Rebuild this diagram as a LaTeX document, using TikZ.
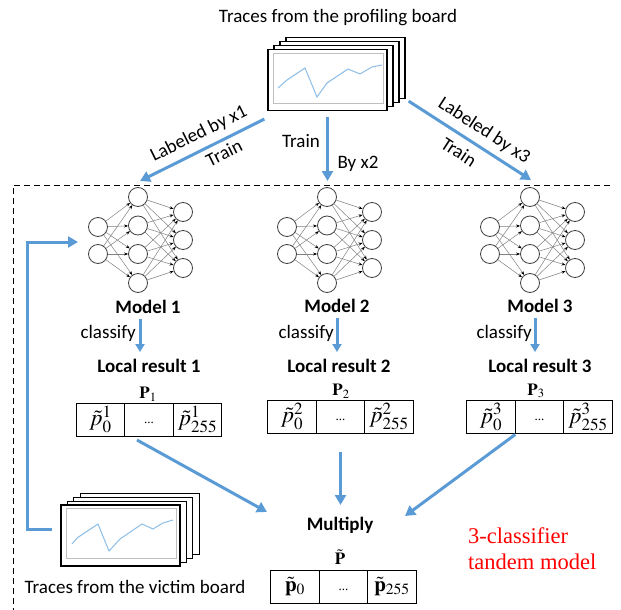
\documentclass[tikz,border=0pt]{standalone}
\usepackage{mathptmx}
\usepackage[no-math]{fontspec}
\setmainfont{Carlito}
\newfontfamily\timesfont{Liberation Serif}
\usetikzlibrary{arrows.meta}
\definecolor{arrowblue}{RGB}{91,155,213}
\definecolor{traceblue}{RGB}{140,190,232}
\begin{document}
\begin{tikzpicture}[x=1pt,y=-1pt,
  lbl/.style={font=\fontsize{19}{21}\selectfont, inner sep=0pt},
  blbl/.style={font=\fontsize{19}{21}\selectfont\bfseries, inner sep=0pt},
  barrow/.style={draw=arrowblue, line width=3pt, -{Triangle[length=10pt,width=11pt]}},
  sarrow/.style={draw=arrowblue, line width=3pt, -{Triangle[length=8pt,width=9pt]}},
  neuron/.style={circle, draw=black!75, line width=0.8pt, minimum size=19pt, inner sep=0pt},
  nnedge/.style={draw=gray, line width=0.5pt, -{Stealth[length=4pt,width=3pt,color=black]}},
  cell/.style={draw, line width=1pt, minimum width=48.5pt, minimum height=33pt, inner sep=0pt, outer sep=0pt, font=\fontsize{23}{25}\selectfont},
  tracepage/.style={draw, line width=1.2pt, fill=white, minimum width=119pt, minimum height=61pt, inner sep=0pt},
  plotbox/.style={draw=black!25, line width=0.4pt},
  plotline/.style={draw=traceblue, line width=1pt},
  mathlbl/.style={inner sep=0pt, font=\fontsize{17}{19}\selectfont},
  dots/.style={font=\timesfont\fontsize{13}{15}\selectfont},
]
\useasboundingbox (0,0) rectangle (621,610);

% ---------- top traces ----------
\node[lbl] (toptitle) at (338,18) {Traces from the profiling board};
\foreach \k in {3,2,1} \node[tracepage] (tp\k) at (327.5+6*\k,80-4*\k) {};
\node[tracepage] (tp0) at (327.5,80) {};
\begin{scope}[shift={(tp0.center)}]
  \draw[plotbox] (-54.5,-27) rectangle (55.5,23);
  \draw[plotline] (-49.5,8) -- (-40.5,0) -- (-22.5,-12) -- (-10.5,17) -- (-0.5,3) -- (20.5,-11) -- (32.5,-6) -- (44.5,-13) -- (54.5,-15);
\end{scope}

% ---------- dashed frame ----------
\draw[line width=1pt, dash pattern=on 6pt off 4pt] (610,185) -- (13,185) -- (13,610);

% ---------- training arrows ----------
\coordinate (sL) at ([shift={(-3,8)}]tp0.south west);
\coordinate (sM) at ([shift={(0,6)}]tp0.south);
\coordinate (sR) at ([shift={(3,2)}]tp3.south east);
\coordinate (tL) at (140,181);
\coordinate (tM) at (327.5,181);
\coordinate (tR) at (531,180);
\draw[barrow] (sL) -- (tL);
\draw[barrow] (sM) -- (tM);
\draw[barrow] (sR) -- (tR);
\node[lbl, rotate=26.4] (labx1) at (199,134) {Labeled by x1};
\node[lbl, rotate=26.4] (trL) at (224,153) {Train};
\node[lbl] (trM) at (301,141) {Train};
\node[lbl] (byx2) at (358,164) {By x2};
\node[lbl, rotate=-33] (labx3) at (484,131) {Labeled by x3};
\node[lbl, rotate=-33] (trR) at (459,152) {Train};

% ---------- networks ----------
\foreach \m/\xh in {1/138,2/327,3/530} {
  \foreach \i/\yy in {1/227,2/254} \node[neuron] (n\m-i\i) at (\xh-40,\yy) {};
  \foreach \j/\yy in {1/197,2/225.5,3/254,4/283} \node[neuron] (n\m-h\j) at (\xh,\yy) {};
  \foreach \k/\yy in {1/212,2/240,3/268} \node[neuron] (n\m-o\k) at (\xh+45,\yy) {};
  \foreach \i in {1,2} \foreach \j in {1,...,4} \draw[nnedge] (n\m-i\i) -- (n\m-h\j);
  \foreach \j in {1,...,4} \foreach \k in {1,2,3} \draw[nnedge] (n\m-h\j) -- (n\m-o\k);
}

% ---------- model labels and classify ----------
\node[blbl] (mod1) at (148,307) {Model 1};
\node[blbl] (mod2) at (337,306) {Model 2};
\node[blbl] (mod3) at (540,306) {Model 3};
\node[blbl] (loc1) at (149,366) {Local result 1};
\node[blbl] (loc2) at (339,366) {Local result 2};
\node[blbl] (loc3) at (540,366) {Local result 3};
\draw[sarrow] ([xshift=-8pt,yshift=-5pt]mod1.south) -- ([xshift=-9pt,yshift=7pt]loc1.north);
\draw[sarrow] ([xshift=0pt,yshift=-5pt]mod2.south) -- ([xshift=-2pt,yshift=7pt]loc2.north);
\draw[sarrow] ([xshift=-5pt,yshift=-5pt]mod3.south) -- ([xshift=-5pt,yshift=7pt]loc3.north);
\node[lbl, anchor=east] (cl1) at (136,333) {classify};
\node[lbl, anchor=east] (cl2) at (334,333) {classify};
\node[lbl, anchor=east] (cl3) at (532,333) {classify};

% ---------- probability vectors ----------
\node[mathlbl] (P1) at (148,394) {$\mathbf{P}_{1}$};
\node[mathlbl] (P2) at (341,391) {$\mathbf{P}_{2}$};
\node[mathlbl] (P3) at (536,391) {$\mathbf{P}_{3}$};

\node[cell] (b1a) at (100.5,419.5) {$\tilde{p}_0^{1}$};
\node[cell, anchor=west] (b1b) at (b1a.east) {};
\node[cell, anchor=west] (b1c) at (b1b.east) {$\tilde{p}_{255}^{1}$};

\node[cell] (b2a) at (292,416.5) {$\tilde{p}_0^{2}$};
\node[cell, anchor=west] (b2b) at (b2a.east) {};
\node[cell, anchor=west] (b2c) at (b2b.east) {$\tilde{p}_{255}^{2}$};

\node[cell] (b3a) at (491,417) {$\tilde{p}_0^{3}$};
\node[cell, anchor=west] (b3b) at (b3a.east) {};
\node[cell, anchor=west] (b3c) at (b3b.east) {$\tilde{p}_{255}^{3}$};

% ---------- multiply ----------
\node[blbl] (mult) at (340,525) {Multiply};
\node[mathlbl] (Pt) at (340,557) {$\tilde{\mathbf{P}}$};
\node[cell, font=\fontsize{21}{23}\selectfont] (bfa) at (295,586.5) {$\tilde{\mathbf{p}}_{0}$};
\node[cell, anchor=west] (bfb) at (bfa.east) {};
\node[cell, anchor=west, font=\fontsize{21}{23}\selectfont] (bfc) at (bfb.east) {$\tilde{\mathbf{p}}_{255}$};
\foreach \c in {b1b,b2b,b3b,bfb} \node[dots] at ([yshift=-3pt]\c.center) {...};

\coordinate (mA) at (267,512);
\coordinate (mB) at (340.5,505);
\coordinate (mC) at (405,516);
\draw[barrow] ([xshift=-12pt,yshift=-4pt]b1b.south) -- (mA);
\draw[barrow] ([yshift=-19pt]b2b.south) -- (mB);
\draw[barrow] ([yshift=-1pt]b3a.south east) -- (mC);

% ---------- victim traces ----------
\foreach \k in {3,2,1} \node[tracepage] (vt\k) at (120.5+6.4*\k,535.5-3.9*\k) {};
\node[tracepage] (vt0) at (120.5,535.5) {};
\begin{scope}[shift={(vt0.center)}]
  \draw[plotbox] (-54.5,-27) rectangle (55.5,23);
  \draw[plotline] (-48.5,8.5) -- (-43.5,2.5) -- (-22.5,-11.5) -- (-11.5,15.5) -- (-0.5,3.5) -- (21.5,-11.5) -- (32.5,-6.5) -- (42.5,-12.5) -- (52.5,-15.5);
\end{scope}
\node[lbl] (victitle) at (135,587) {Traces from the victim board};

% ---------- feedback ----------
\coordinate (fbs) at ([shift={(-8,-6.5)}]vt0.west);
\coordinate (fbe) at (78,242);
\draw[barrow] (fbs) -- ++(-25,0) |- (fbe);

% ---------- tandem label ----------
\node[anchor=west, align=left, text=red, inner sep=0pt, font=\timesfont\fontsize{22.5}{26}\selectfont] (tandem) at (468,549) {3-classifier\\tandem model};
\end{tikzpicture}
\end{document}
